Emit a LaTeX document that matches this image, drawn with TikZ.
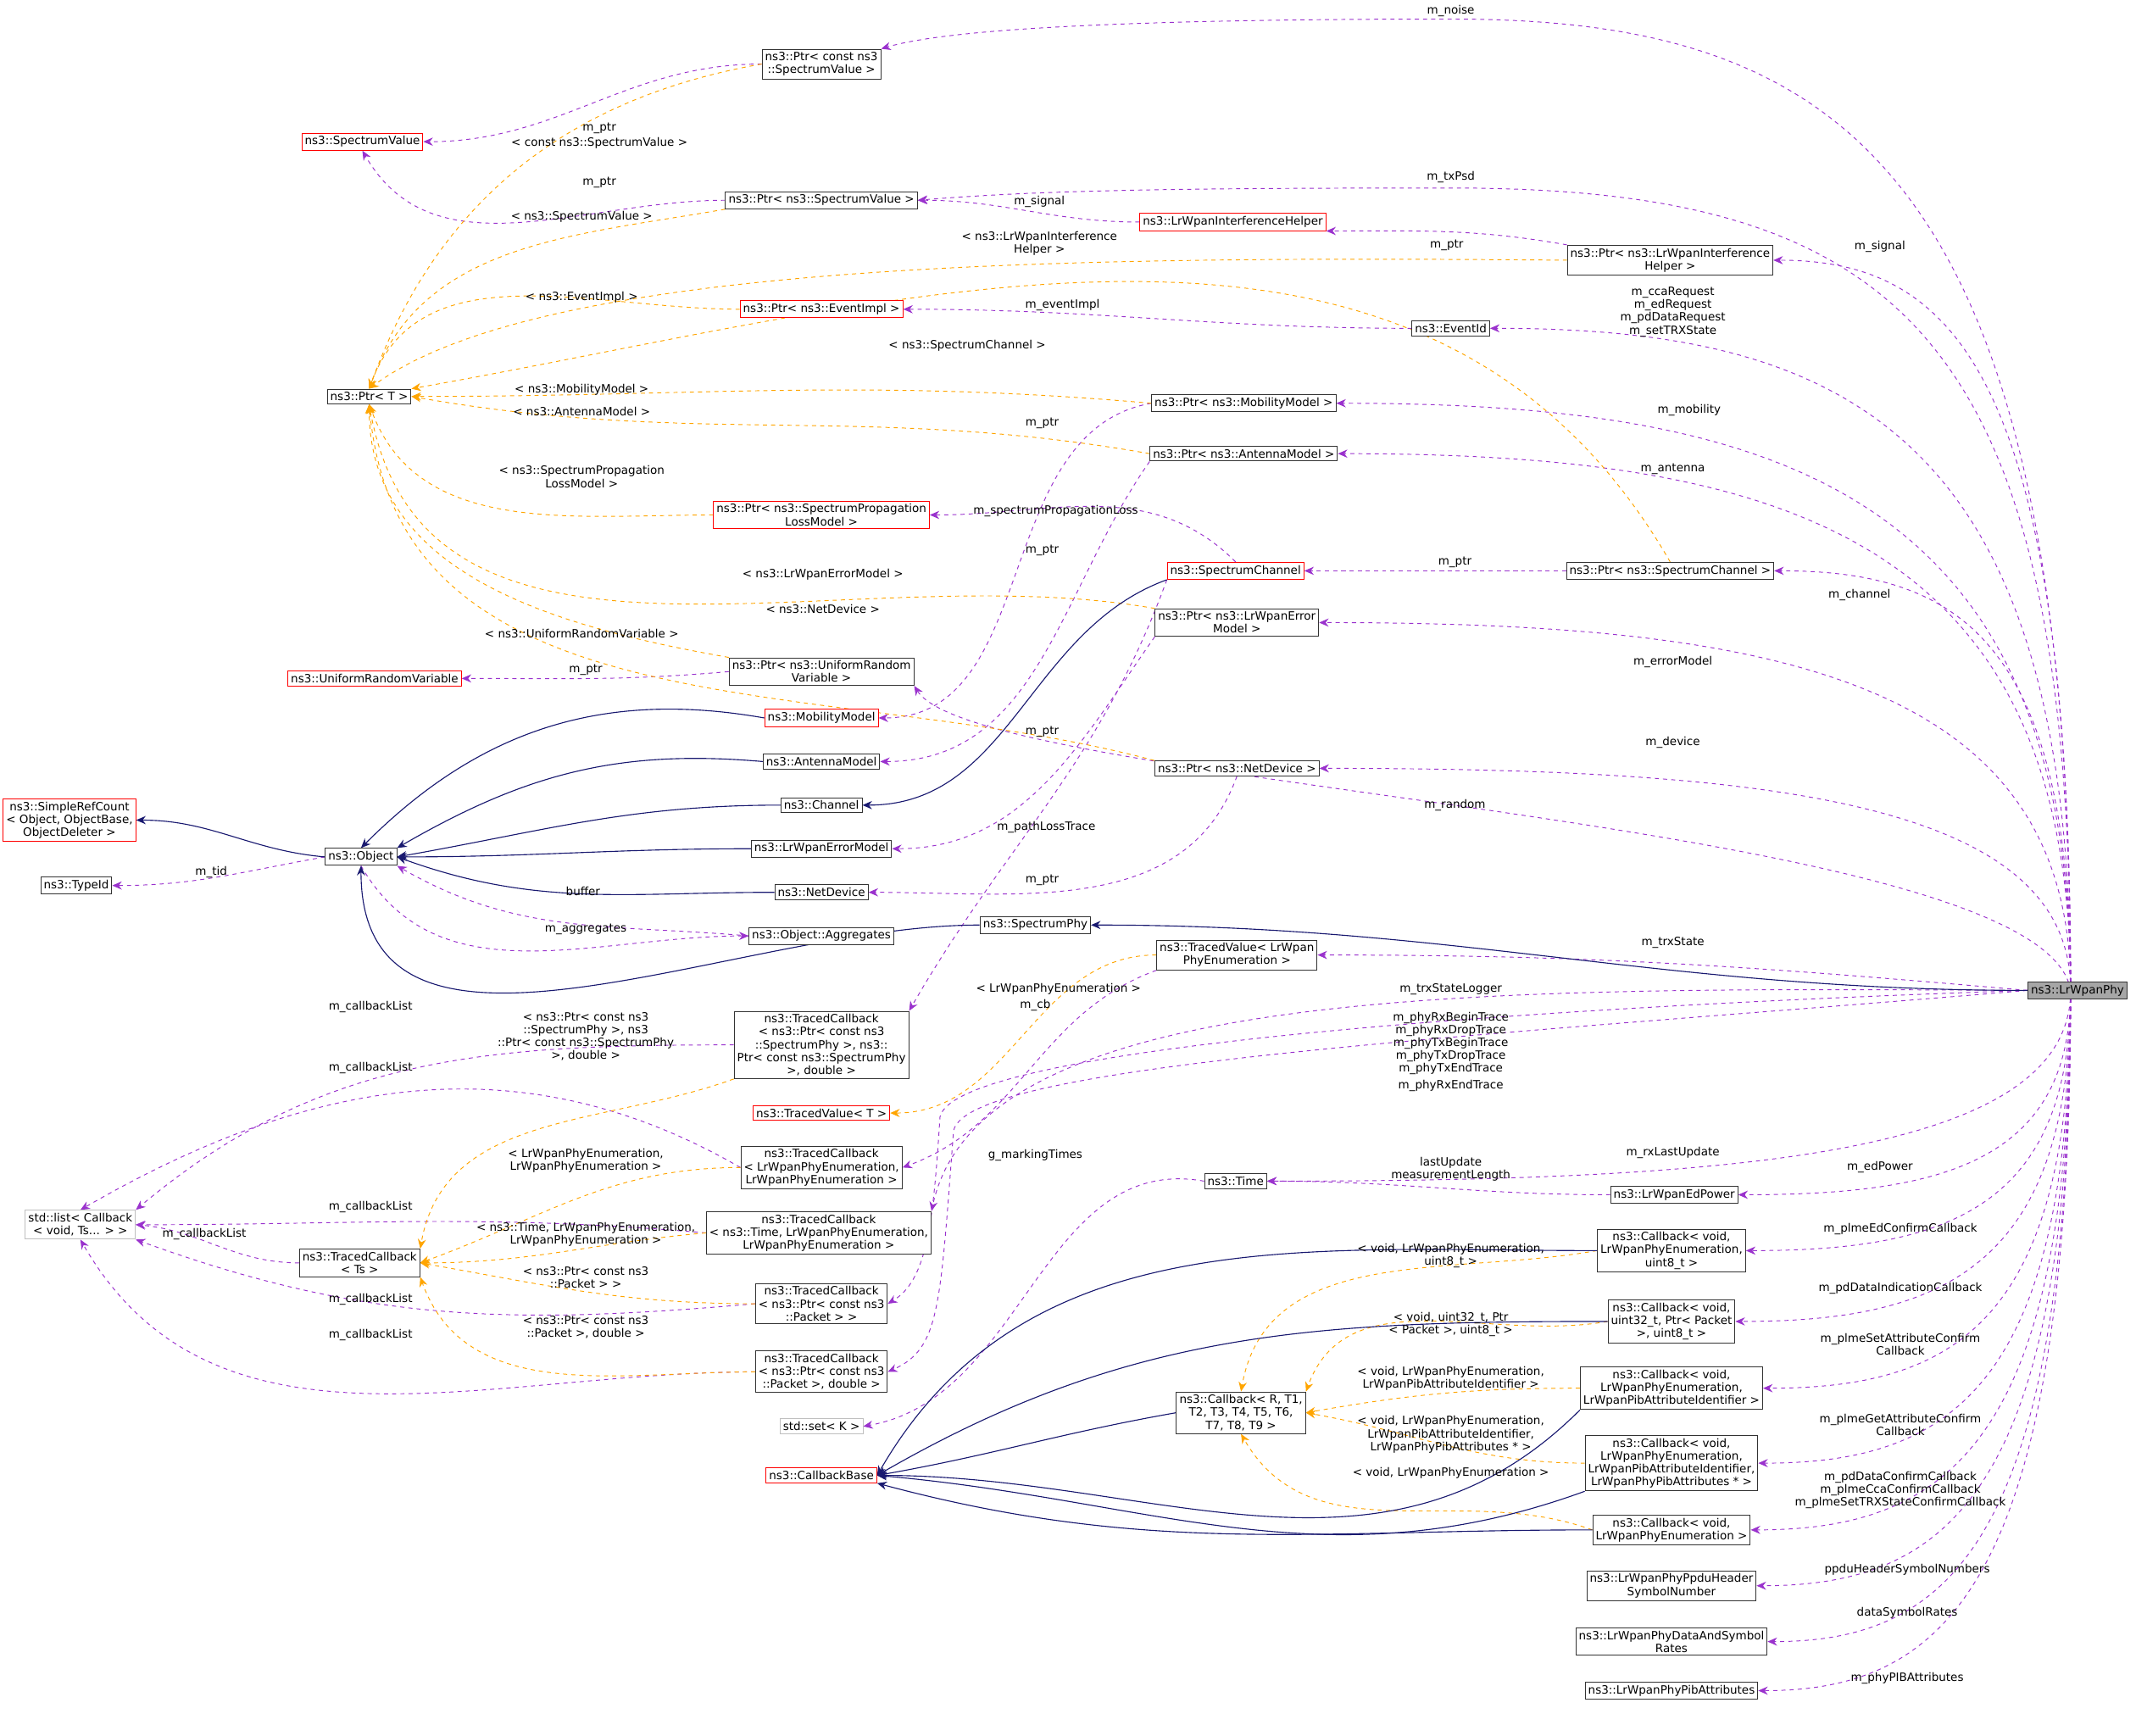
\documentclass[tikz,border=0pt]{standalone}
\usepackage{fontspec}
\setmainfont{DejaVu Sans}
\usetikzlibrary{arrows.meta,calc,backgrounds}
\definecolor{pur}{HTML}{9A32CD}
\definecolor{org}{HTML}{FFA500}
\definecolor{nav}{HTML}{191970}
\newcommand\pedge[1]{\draw[pe] (Pc) .. controls ($(Pc)!0.85!(Pc|-#1.east)$) and ($(#1.east)!0.6!(#1.east-|Pc)$) .. (#1.east);}
\begin{document}
\begin{tikzpicture}[x=1pt,y=-1pt,
 cls/.style={draw=black!80,line width=0.6pt,fill=white,inner sep=2.2pt,font=\fontsize{8.4}{9.4}\selectfont,align=center},
 red/.style={cls,draw=red},
 gry/.style={cls,draw=black!25},
 pe/.style={draw=pur,dashed,line width=0.6pt,-{Stealth[length=7pt,width=6pt]}},
 oe/.style={draw=org,dashed,line width=0.6pt,-{Stealth[length=7pt,width=6pt]}},
 ie/.style={draw=nav,line width=0.7pt,-{Stealth[length=7pt,width=6pt]}},
 lb/.style={font=\fontsize{8.4}{9.4}\selectfont,align=center,inner sep=0pt}]
\useasboundingbox (0,0) rectangle (1568,1274);
% nodes
\node[cls,fill=black!35] (P) at (1525,727) {ns3::LrWpanPhy};
\coordinate (Pc) at (1520,727);
\coordinate (nz) at (1065,14);
\coordinate (tx) at (1065,138);
\node[cls] (PSVC) at (603,47) {ns3::Ptr< const ns3\\::SpectrumValue >};
\node[red] (SV) at (266,104) {ns3::SpectrumValue};
\node[cls] (PSV) at (603,147) {ns3::Ptr< ns3::SpectrumValue >};
\node[red] (LIH) at (905,163) {ns3::LrWpanInterferenceHelper};
\node[cls] (PLIH) at (1226,191) {ns3::Ptr< ns3::LrWpanInterference\\Helper >};
\node[cls] (PT) at (271,291) {ns3::Ptr< T >};
\node[red] (PEI) at (603,227) {ns3::Ptr< ns3::EventImpl >};
\node[cls] (EID) at (1065,241) {ns3::EventId};
\node[cls] (PMM) at (913,296) {ns3::Ptr< ns3::MobilityModel >};
\node[cls] (PAM) at (913,333) {ns3::Ptr< ns3::AntennaModel >};
\node[red] (PSPL) at (603,378) {ns3::Ptr< ns3::SpectrumPropagation\\LossModel >};
\node[red] (SC) at (907,419) {ns3::SpectrumChannel};
\node[cls] (PSC) at (1226,419) {ns3::Ptr< ns3::SpectrumChannel >};
\node[cls] (PEM) at (908,457) {ns3::Ptr< ns3::LrWpanError\\Model >};
\node[cls] (PURV) at (603,493) {ns3::Ptr< ns3::UniformRandom\\Variable >};
\node[red] (URV) at (275,498) {ns3::UniformRandomVariable};
\node[red] (MM) at (603,527) {ns3::MobilityModel};
\node[cls] (AM) at (603,559) {ns3::AntennaModel};
\node[cls] (PND) at (908,564) {ns3::Ptr< ns3::NetDevice >};
\node[cls] (CH) at (603,591) {ns3::Channel};
\node[red] (SRC) at (51,602) {ns3::SimpleRefCount\\< Object, ObjectBase,\\ObjectDeleter >};
\node[cls] (OBJ) at (265,629) {ns3::Object};
\node[cls] (LEM) at (603,623) {ns3::LrWpanErrorModel};
\node[cls] (TID) at (56,650) {ns3::TypeId};
\node[cls] (ND) at (603,655) {ns3::NetDevice};
\node[cls] (SP) at (760,679) {ns3::SpectrumPhy};
\node[cls] (OA) at (603,687) {ns3::Object::Aggregates};
\node[cls] (TVL) at (908,701) {ns3::TracedValue< LrWpan\\PhyEnumeration >};
\node[cls] (TC1) at (603,767) {ns3::TracedCallback\\< ns3::Ptr< const ns3\\::SpectrumPhy >, ns3::\\Ptr< const ns3::SpectrumPhy\\>, double >};
\node[red] (TVT) at (603,817) {ns3::TracedValue< T >};
\node[cls] (TC2) at (603,857) {ns3::TracedCallback\\< LrWpanPhyEnumeration,\\LrWpanPhyEnumeration >};
\node[cls] (TIME) at (907,867) {ns3::Time};
\node[cls] (EDP) at (1229,877) {ns3::LrWpanEdPower};
\node[gry] (SL) at (59,899) {std::list< Callback\\< void, Ts... > >};
\node[cls] (TC3) at (601,905) {ns3::TracedCallback\\< ns3::Time, LrWpanPhyEnumeration,\\LrWpanPhyEnumeration >};
\node[cls] (TCT) at (264,927) {ns3::TracedCallback\\< Ts >};
\node[cls] (CBED) at (1227,918) {ns3::Callback< void,\\LrWpanPhyEnumeration,\\uint8\_t >};
\node[cls] (TC4) at (603,957) {ns3::TracedCallback\\< ns3::Ptr< const ns3\\::Packet > >};
\node[cls] (CBPD) at (1227,970) {ns3::Callback< void,\\uint32\_t, Ptr< Packet\\>, uint8\_t >};
\node[cls] (TC5) at (603,1007) {ns3::TracedCallback\\< ns3::Ptr< const ns3\\::Packet >, double >};
\node[cls] (CBSA) at (1227,1019) {ns3::Callback< void,\\LrWpanPhyEnumeration,\\LrWpanPibAttributeIdentifier >};
\node[cls] (CBR) at (911,1037) {ns3::Callback< R, T1,\\T2, T3, T4, T5, T6,\\T7, T8, T9 >};
\node[gry] (SET) at (603,1047) {std::set< K >};
\node[cls] (CBGA) at (1227,1074) {ns3::Callback< void,\\LrWpanPhyEnumeration,\\LrWpanPibAttributeIdentifier,\\LrWpanPhyPibAttributes * >};
\node[red] (CBB) at (603,1083) {ns3::CallbackBase};
\node[cls] (CBPE) at (1227,1123) {ns3::Callback< void,\\LrWpanPhyEnumeration >};
\node[cls] (PPDU) at (1227,1164) {ns3::LrWpanPhyPpduHeader\\SymbolNumber};
\node[cls] (DSR) at (1227,1205) {ns3::LrWpanPhyDataAndSymbol\\Rates};
\node[cls] (PIB) at (1227,1241) {ns3::LrWpanPhyPibAttributes};
\begin{scope}[on background layer]
% LrWpanPhy members
\draw[pe] (Pc) .. controls (1520,120) and (1350,14) .. (nz) .. controls (850,14) and (700,20) .. (PSVC.north east);
\draw[pe] (Pc) .. controls (1520,250) and (1400,138) .. (tx) .. controls (850,138) and (760,140) .. (PSV.east);
\pedge{PLIH}\pedge{EID}\pedge{PMM}\pedge{PAM}\pedge{PSC}\pedge{PEM}\pedge{PND}
\pedge{TIME}\pedge{EDP}\pedge{CBED}\pedge{CBPD}\pedge{CBSA}\pedge{CBGA}\pedge{CBPE}\pedge{PPDU}\pedge{DSR}\pedge{PIB}
\draw[pe] (Pc) .. controls (1500,600) and (720,580) .. (PURV.south east);
\draw[pe] (P.west) to[out=175,in=0] (TVL.east);
\draw[pe] (P.west) .. controls (1100,725) and (720,720) .. (TC3.north east);
\draw[pe] (P.west) .. controls (1100,740) and (700,770) .. (690,820) .. controls (685,900) and (680,940) .. (TC4.east);
\draw[pe] (P.west) .. controls (1100,760) and (710,780) .. (700,830) .. controls (690,960) and (690,990) .. (TC5.east);
% other members
\draw[pe] (PSVC.west) to[out=180,in=0] (SV.east);
\draw[pe] (PSV.west) to[out=180,in=-60] (SV.south);
\draw[pe] (LIH.west) to[out=180,in=0] (PSV.east);
\draw[pe] (PLIH.north west) to[out=170,in=0] (LIH.south east);
\draw[pe] (EID.west) to[out=180,in=0] (PEI.east);
\draw[pe] (PMM.west) to[out=190,in=0] (MM.east);
\draw[pe] (PAM.south west) to[out=235,in=0] (AM.east);
\draw[pe] (SC.north) to[out=135,in=0] (PSPL.east);
\draw[pe] (PSC.west) to[out=180,in=0] (SC.east);
\draw[pe] (PEM.south west) to[out=235,in=0] (LEM.east);
\draw[pe] (PURV.west) to[out=185,in=0] (URV.east);
\draw[pe] (SC.south west) to[out=250,in=60] (TC1.north east);
\draw[pe] (PND.south) to[out=250,in=0] (ND.east);
\draw[pe] (OBJ.west) to[out=190,in=0] (TID.east);
\draw[pe] (OA.west) to[out=175,in=-30] (OBJ.south east);
\draw[pe] (OBJ.south) to[out=-60,in=180] (OA.west);
\draw[pe] (TVL.south west) to[out=200,in=20] (TC2.east);
\draw[pe] (TIME.west) to[out=170,in=10] (SET.east);
\draw[pe] (EDP.west) to[out=180,in=0] (TIME.east);
\draw[pe] (TC1.west) to[out=180,in=40] (SL.north east);
\draw[pe] (TC2.west) to[out=150,in=30] (SL.north);
\draw[pe] (TC3.west) to[out=175,in=0] (SL.east);
\draw[pe] (TCT.west) to[out=180,in=-5] (SL.east);
\draw[pe] (TC4.west) to[out=185,in=-20] (SL.south east);
\draw[pe] (TC5.west) to[out=180,in=-60] (SL.south);
% templates
\draw[oe] (PSVC.west) to[out=190,in=70] (PT.north);
\draw[oe] (PSV.south west) to[out=190,in=70] (PT.north);
\draw[oe] (PLIH.west) .. controls (800,188) and (400,190) .. (PT.north);
\draw[oe] (PEI.west) to[out=180,in=70] (PT.north);
\draw[oe] (PSC.north) to[out=120,in=10] (PT.north east);
\draw[oe] (PMM.west) to[out=175,in=0] (PT.east);
\draw[oe] (PAM.west) to[out=170,in=-10] (PT.east);
\draw[oe] (PSPL.west) to[out=180,in=-70] (PT.south);
\draw[oe] (PEM.north west) to[out=170,in=-80] (PT.south);
\draw[oe] (PND.north west) to[out=165,in=-85] (PT.south);
\draw[oe] (PURV.north west) to[out=170,in=-90] (PT.south);
\draw[oe] (TVL.west) to[out=180,in=0] (TVT.east);
\draw[oe] (TC1.south west) to[out=200,in=80] (TCT.north east);
\draw[oe] (TC2.west) to[out=180,in=20] (TCT.east);
\draw[oe] (TC3.west) to[out=185,in=0] (TCT.east);
\draw[oe] (TC4.west) to[out=180,in=-10] (TCT.east);
\draw[oe] (TC5.west) to[out=180,in=-70] (TCT.south east);
\draw[oe] (CBED.west) to[out=190,in=80] (CBR.north);
\draw[oe] (CBPD.west) to[out=190,in=70] (CBR.north east);
\draw[oe] (CBSA.west) to[out=180,in=10] (CBR.east);
\draw[oe] (CBGA.west) to[out=180,in=-10] (CBR.east);
\draw[oe] (CBPE.west) to[out=160,in=-60] (CBR.south);
% inheritance
\draw[ie] (P.west) to[out=180,in=0] (SP.east);
\draw[ie] (SP.west) to[out=180,in=-90] (OBJ.south);
\draw[ie] (MM.west) to[out=170,in=45] (OBJ.north);
\draw[ie] (AM.west) to[out=175,in=30] (OBJ.north east);
\draw[ie] (CH.west) to[out=180,in=10] (OBJ.east);
\draw[ie] (LEM.west) to[out=180,in=0] (OBJ.east);
\draw[ie] (ND.west) to[out=180,in=-20] (OBJ.east);
\draw[ie] (OBJ.west) to[out=175,in=0] (SRC.east);
\draw[ie] (SC.south west) to[out=200,in=0] (CH.east);
\draw[ie] (CBR.west) to[out=190,in=10] (CBB.east);
\draw[ie] (CBED.west) to[out=180,in=60] (CBB.east);
\draw[ie] (CBPD.west) to[out=180,in=30] (CBB.east);
\draw[ie] (CBSA.south west) to[out=225,in=0] (CBB.east);
\draw[ie] (CBGA.south west) to[out=200,in=-5] (CBB.east);
\draw[ie] (CBPE.west) to[out=180,in=-15] (CBB.south east);
\end{scope}
\node[lb] (l1) at (1065,8) {m\_noise};
\node[lb] (l2) at (1065,130) {m\_txPsd};
\node[lb] (l3) at (1380,181) {m\_signal};
\node[lb] (l4) at (1228,229) {m\_ccaRequest\\m\_edRequest\\m\_pdDataRequest\\m\_setTRXState};
\node[lb] (l5) at (1240,301) {m\_mobility};
\node[lb] (l6) at (1228,344) {m\_antenna};
\node[lb] (l7) at (1365,437) {m\_channel};
\node[lb] (l8) at (1228,486) {m\_errorModel};
\node[lb] (l9) at (1228,545) {m\_device};
\node[lb] (l10) at (1068,591) {m\_random};
\node[lb] (l11) at (1228,692) {m\_trxState};
\node[lb] (l12) at (1065,726) {m\_trxStateLogger};
\node[lb] (l13) at (1065,766) {m\_phyRxBeginTrace\\m\_phyRxDropTrace\\m\_phyTxBeginTrace\\m\_phyTxDropTrace\\m\_phyTxEndTrace};
\node[lb] (l14) at (1065,797) {m\_phyRxEndTrace};
\node[lb] (l15) at (1228,846) {m\_rxLastUpdate};
\node[lb] (l16) at (1380,857) {m\_edPower};
\node[lb] (l17) at (1395,902) {m\_plmeEdConfirmCallback};
\node[lb] (l18) at (1395,946) {m\_pdDataIndicationCallback};
\node[lb] (l19) at (1395,987) {m\_plmeSetAttributeConfirm\\Callback};
\node[lb] (l20) at (1395,1046) {m\_plmeGetAttributeConfirm\\Callback};
\node[lb] (l21) at (1395,1094) {m\_pdDataConfirmCallback\\m\_plmeCcaConfirmCallback\\m\_plmeSetTRXStateConfirmCallback};
\node[lb] (l22) at (1400,1152) {ppduHeaderSymbolNumbers};
\node[lb] (l23) at (1400,1184) {dataSymbolRates};
\node[lb] (l24) at (1400,1232) {m\_phyPIBAttributes};
\node[lb] (m1) at (440,94) {m\_ptr};
\node[lb] (m2) at (440,134) {m\_ptr};
\node[lb] (m3) at (763,148) {m\_signal};
\node[lb] (m4) at (1062,180) {m\_ptr};
\node[lb] (m5) at (780,224) {m\_eventImpl};
\node[lb] (m6) at (765,311) {m\_ptr};
\node[lb] (m7) at (765,404) {m\_ptr};
\node[lb] (m8) at (775,375) {m\_spectrumPropagationLoss};
\node[lb] (m9) at (1068,413) {m\_ptr};
\node[lb] (m10) at (765,537) {m\_ptr};
\node[lb] (m11) at (430,492) {m\_ptr};
\node[lb] (m12) at (768,607) {m\_pathLossTrace};
\node[lb] (m13) at (765,646) {m\_ptr};
\node[lb] (m14) at (155,640) {m\_tid};
\node[lb] (m15) at (428,654) {buffer};
\node[lb] (m16) at (430,682) {m\_aggregates};
\node[lb] (m17) at (760,738) {m\_cb};
\node[lb] (m18) at (760,848) {g\_markingTimes};
\node[lb] (m19) at (1065,858) {lastUpdate\\measurementLength};
\node[lb] (m20) at (272,739) {m\_callbackList};
\node[lb] (m21) at (272,784) {m\_callbackList};
\node[lb] (m22) at (272,886) {m\_callbackList};
\node[lb] (m23) at (150,906) {m\_callbackList};
\node[lb] (m24) at (272,954) {m\_callbackList};
\node[lb] (m25) at (272,980) {m\_callbackList};
\node[lb] (t1) at (440,105) {< const ns3::SpectrumValue >};
\node[lb] (t2) at (427,159) {< ns3::SpectrumValue >};
\node[lb] (t3) at (763,179) {< ns3::LrWpanInterference\\Helper >};
\node[lb] (t4) at (427,218) {< ns3::EventImpl >};
\node[lb] (t5) at (710,254) {< ns3::SpectrumChannel >};
\node[lb] (t6) at (427,286) {< ns3::MobilityModel >};
\node[lb] (t7) at (427,302) {< ns3::AntennaModel >};
\node[lb] (t8) at (427,350) {< ns3::SpectrumPropagation\\LossModel >};
\node[lb] (t9) at (604,422) {< ns3::LrWpanErrorModel >};
\node[lb] (t10) at (604,447) {< ns3::NetDevice >};
\node[lb] (t11) at (427,465) {< ns3::UniformRandomVariable >};
\node[lb] (t12) at (777,726) {< LrWpanPhyEnumeration >};
\node[lb] (t13) at (430,761) {< ns3::Ptr< const ns3\\::SpectrumPhy >, ns3\\::Ptr< const ns3::SpectrumPhy\\>, double >};
\node[lb] (t14) at (430,852) {< LrWpanPhyEnumeration,\\LrWpanPhyEnumeration >};
\node[lb] (t15) at (430,906) {< ns3::Time, LrWpanPhyEnumeration,\\LrWpanPhyEnumeration >};
\node[lb] (t16) at (430,938) {< ns3::Ptr< const ns3\\::Packet > >};
\node[lb] (t17) at (430,974) {< ns3::Ptr< const ns3\\::Packet >, double >};
\node[lb] (t18) at (1065,922) {< void, LrWpanPhyEnumeration,\\uint8\_t >};
\node[lb] (t19) at (1065,972) {< void, uint32\_t, Ptr\\< Packet >, uint8\_t >};
\node[lb] (t20) at (1065,1012) {< void, LrWpanPhyEnumeration,\\LrWpanPibAttributeIdentifier >};
\node[lb] (t21) at (1065,1053) {< void, LrWpanPhyEnumeration,\\LrWpanPibAttributeIdentifier,\\LrWpanPhyPibAttributes * >};
\node[lb] (t22) at (1065,1081) {< void, LrWpanPhyEnumeration >};
\end{tikzpicture}
\end{document}
